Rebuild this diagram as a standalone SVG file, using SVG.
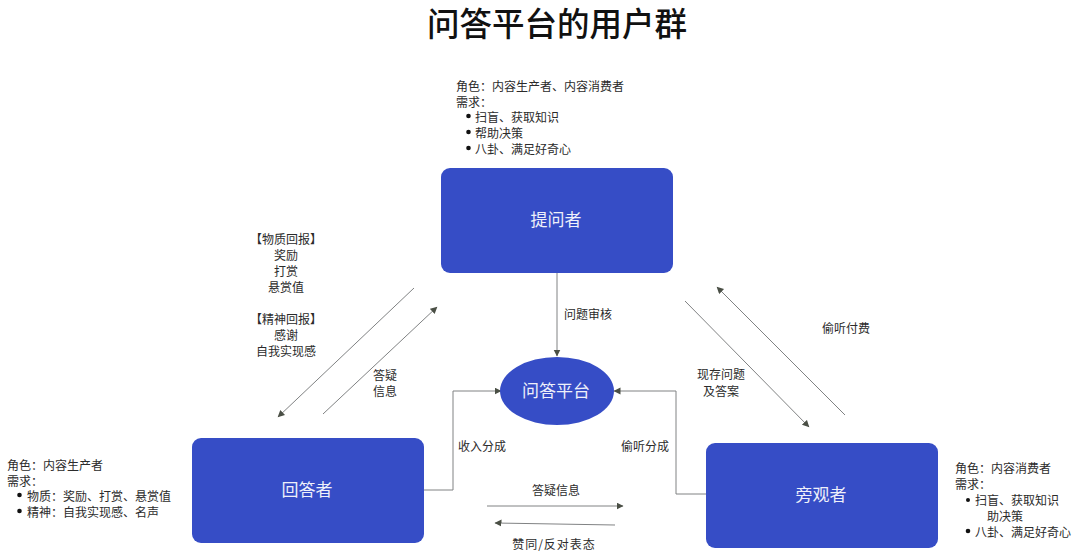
<svg xmlns="http://www.w3.org/2000/svg" width="1080" height="557" viewBox="0 0 1080 557">
<defs>
<marker id="arr" markerWidth="8" markerHeight="8" refX="6.5" refY="3.5" orient="auto" markerUnits="userSpaceOnUse"><path d="M0,0 L7,3.5 L0,7 Z" fill="#4a4f45"/></marker>
</defs>
<style>
text{font-family:"Noto Sans CJK SC","Liberation Sans",sans-serif;font-size:12px;fill:#2b2b2b}
.c{text-anchor:middle}
.n{font-size:17px;fill:#eef0fa;text-anchor:middle}
.box{fill:#364dc6}
.title{font-size:32.5px;fill:#111;text-anchor:middle;font-weight:500}
.l{fill:none;stroke:#808283;stroke-width:1;marker-end:url(#arr)}
.b{fill:#111}
</style>
<rect width="1080" height="557" fill="#fff"/>
<text id="title" class="title" x="557" y="36">问答平台的用户群</text>
<g id="connectors">
<path class="l" d="M557,273V356"/>
<path class="l" d="M424,490H453V391H501"/>
<path class="l" d="M706,494H676V391H614"/>
<path class="l" d="M414,288L278,417"/>
<path class="l" d="M323,414L437,307"/>
<path class="l" d="M685,301L809,427"/>
<path class="l" d="M845,415L717,287"/>
<path class="l" d="M487,506H623"/>
<path class="l" d="M615,525L495,523"/>
</g>
<g id="node-asker"><rect class="box" x="441" y="168" width="232" height="105" rx="9"/><text class="n" x="556" y="226">提问者</text></g>
<g id="node-platform"><ellipse class="box" cx="557" cy="391" rx="57" ry="34"/><text class="n" x="556" y="397">问答平台</text></g>
<g id="node-answerer"><rect class="box" x="192" y="438" width="232" height="105" rx="9"/><text class="n" x="307" y="496">回答者</text></g>
<g id="node-observer"><rect class="box" x="706" y="443" width="232" height="105" rx="9"/><text class="n" x="821" y="501">旁观者</text></g>
<g id="text-asker">
<text x="456" y="91">角色：内容生产者、内容消费者</text>
<text x="456" y="107">需求：</text>
<circle class="b" cx="468.500" cy="116" r="2.300"/><text x="475" y="122">扫盲、获取知识</text>
<circle class="b" cx="468.500" cy="132" r="2.300"/><text x="475" y="138">帮助决策</text>
<circle class="b" cx="468.500" cy="148" r="2.300"/><text x="475" y="154">八卦、满足好奇心</text>
</g>
<g id="text-answerer">
<text x="7" y="470">角色：内容生产者</text>
<text x="7" y="486">需求：</text>
<circle class="b" cx="19.500" cy="495" r="2.300"/><text x="27" y="501">物质：奖励、打赏、悬赏值</text>
<circle class="b" cx="19.500" cy="511" r="2.300"/><text x="27" y="517">精神：自我实现感、名声</text>
</g>
<g id="text-observer">
<text x="955" y="473">角色：内容消费者</text>
<text x="955" y="489">需求：</text>
<circle class="b" cx="968" cy="500" r="2"/><text x="975" y="505">扫盲、获取知识</text>
<text x="987" y="521">助决策</text>
<circle class="b" cx="968" cy="531" r="2.300"/><text x="975" y="537">八卦、满足好奇心</text>
</g>
<g id="labels">
<text class="c" x="286" y="244">【物质回报】</text>
<text class="c" x="286" y="260">奖励</text>
<text class="c" x="286" y="276">打赏</text>
<text class="c" x="286" y="292">悬赏值</text>
<text class="c" x="286" y="324">【精神回报】</text>
<text class="c" x="286" y="340">感谢</text>
<text class="c" x="286" y="356">自我实现感</text>
<text class="c" x="385" y="380">答疑</text>
<text class="c" x="385" y="396">信息</text>
<text class="c" x="588" y="319">问题审核</text>
<text class="c" x="846" y="333">偷听付费</text>
<text class="c" x="721" y="379">现存问题</text>
<text class="c" x="721" y="396">及答案</text>
<text class="c" x="482" y="451">收入分成</text>
<text class="c" x="645" y="451">偷听分成</text>
<text class="c" x="556" y="495">答疑信息</text>
<text class="c" x="554" y="549" letter-spacing="1">赞同/反对表态</text>
</g>
</svg>
